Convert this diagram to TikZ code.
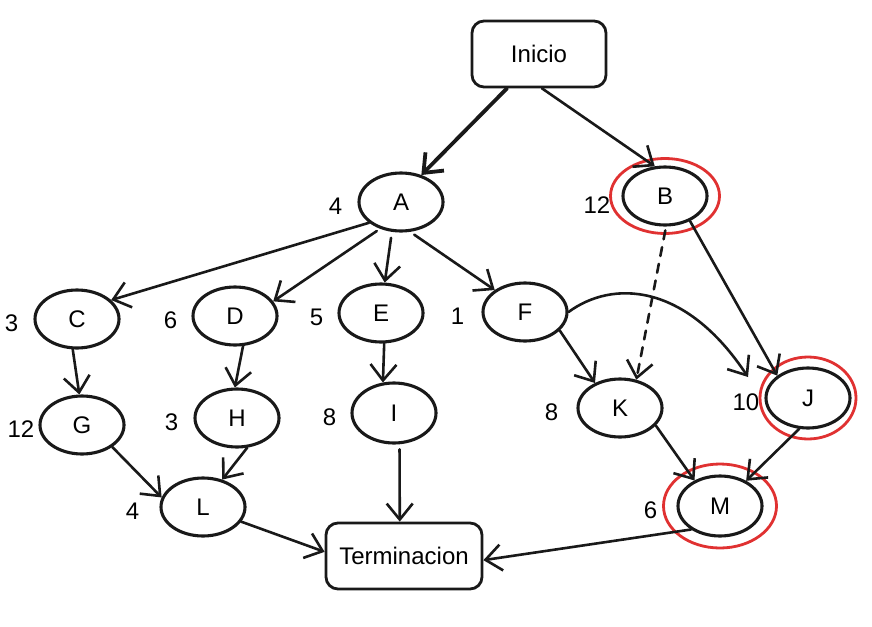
\documentclass[tikz,border=0pt]{standalone}
\usepackage{fontspec}
\setmainfont{Liberation Sans}
\usepackage{xcolor}
\usepackage{tikz}
\usetikzlibrary{shapes.geometric, arrows.meta, positioning}
\definecolor{ringred}{RGB}{224,49,49}

\begin{document}
\begin{tikzpicture}[x=1pt, y=-1pt, font=\fontsize{24}{28}\selectfont]
    \tikzstyle{box} = [rectangle, rounded corners=12pt, line width=2.8pt, draw=black!90, inner sep=0pt, minimum height=66pt]
    \tikzstyle{task} = [ellipse, minimum width=84pt, minimum height=58pt, inner sep=0pt, line width=3.1pt, draw=black!90]
    \tikzstyle{weight} = [inner sep=0pt, yshift=-4pt]
    \tikzstyle{ring} = [line width=2.8pt, draw=ringred]
    \tikzstyle{arrow} = [line width=2.6pt, draw=black!90, line cap=round, -{Straight Barb[length=16pt, width=26pt]}]

    \useasboundingbox (0,0) rectangle (872,626);

    \node (inicio) [box, minimum width=134pt] at (539,54) {Inicio};
    \node (term) [box, minimum width=156pt] at (404,556) {Terminacion};

    \node (a) [task] at (401,202) {A};
    \node (b) [task] at (665,196) {B};
    \node (c) [task] at (77,319) {C};
    \node (d) [task] at (235,316) {D};
    \node (e) [task] at (381,313) {E};
    \node (f) [task] at (525,312) {F};
    \node (g) [task] at (82,425) {G};
    \node (h) [task] at (237,418) {H};
    \node (i) [task, minimum height=60pt] at (394,413) {I};
    \node (k) [task] at (620,408) {K};
    \node (j) [task, minimum height=60pt] at (808,398) {J};
    \node (l) [task] at (203,507) {L};
    \node (m) [task, minimum height=60pt] at (720,506) {M};

    \node (wa) [weight, left=15pt of a] {4};
    \node (wb) [weight, left=11pt of b, yshift=-5pt] {12};
    \node (wc) [weight, left=15pt of c] {3};
    \node (wd) [weight, left=14pt of d] {6};
    \node (we) [weight, left=14pt of e] {5};
    \node (wf) [weight, left=17pt of f] {1};
    \node (wg) [weight, left=4pt of g] {12};
    \node (wh) [weight, left=15pt of h] {3};
    \node (wi) [weight, left=14pt of i] {8};
    \node (wk) [weight, left=18pt of k] {8};
    \node (wj) [weight, left=5pt of j] {10};
    \node (wl) [weight, left=20pt of l] {4};
    \node (wm) [weight, left=19pt of m] {6};

    \draw [ring] (b.center) ellipse [x radius=54.5, y radius=37.5];
    \draw [ring] (j.center) ellipse [x radius=48, y radius=41];
    \draw [ring] (m.center) ellipse [x radius=56.5, y radius=42];

    \coordinate (jin) at (748,377);

    \draw [arrow, line width=3.8pt] (inicio.227) -- (a.53);
    \draw [arrow] (inicio.275) -- (b.109);
    \draw [arrow] (a.213) -- (c.29);
    \draw [arrow, shorten <=4pt] (a.232) -- (d.21);
    \draw [arrow, shorten <=6pt] (a.253) -- (e.83);
    \draw [arrow, shorten <=5pt] (a.287) -- (f.144);
    \draw [arrow, dash pattern=on 9pt off 8pt, shorten <=4pt] (b.272) -- (k.60);
    \draw [arrow] (b.315) -- (j.144);
    \draw [arrow] (c.262) -- (g.95);
    \draw [arrow] (d.285) -- (h.94);
    \draw [arrow] (e.276) -- (i.110);
    \draw [arrow] (f.332) -- (k.135);
    \draw [arrow] (f.east) .. controls (612,280) and (685,282) .. (jin);
    \draw [arrow] (g.324) -- (l.167);
    \draw [arrow] (h.289) -- (l.55);
    \draw [arrow, shorten <=5pt] (i.280) -- (term.97);
    \draw [arrow] (l.339) -- (term.177);
    \draw [arrow] (k.334) -- (m.135);
    \draw [arrow] (j.254) -- (m.44);
    \draw [arrow] (m.219) -- (term.357);
\end{tikzpicture}
\end{document}
